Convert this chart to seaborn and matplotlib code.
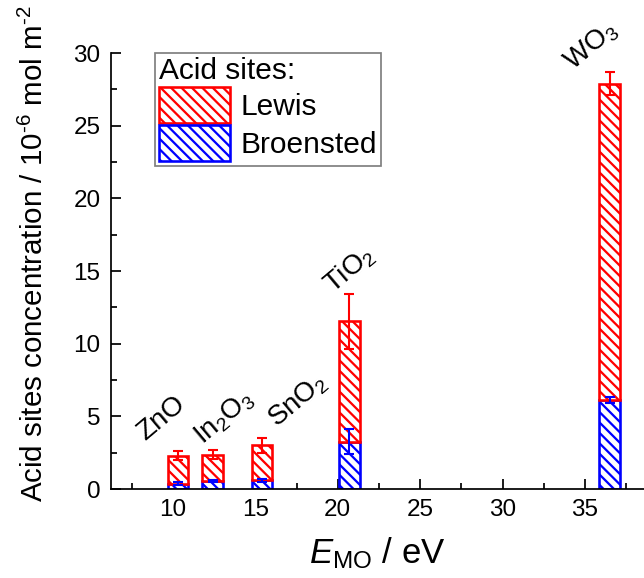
import numpy as np
import pandas as pd
import matplotlib
matplotlib.use("Agg")
import matplotlib.pyplot as plt
from matplotlib.patches import Patch
from matplotlib.ticker import MultipleLocator
import seaborn as sns

# Metal oxides and their E_MO values (eV)
oxides = ["ZnO", "In$_2$O$_3$", "SnO$_2$", "TiO$_2$", "WO$_3$"]
e_mo = [10.3, 12.4, 15.4, 20.7, 36.5]

# Acid site concentrations (10^-6 mol m^-2)
broensted = [0.35, 0.55, 0.6, 3.25, 6.1]
broensted_err = [0.1, 0.1, 0.1, 0.85, 0.2]
lewis = [1.95, 1.8, 2.4, 8.3, 21.8]
total_err = [0.3, 0.3, 0.5, 1.9, 0.8]

# Label positions for the oxide names (data coords)
label_x = [9.3, 13.1, 17.6, 20.7, 35.35]
label_y = [4.9, 4.9, 6.05, 15.1, 30.5]

DPI = 125
sns.set_style("ticks")
plt.rcParams["font.family"] = ["Liberation Sans", "DejaVu Sans"]
plt.rcParams["mathtext.fontset"] = "custom"
plt.rcParams["mathtext.rm"] = "Liberation Sans"
plt.rcParams["mathtext.it"] = "Liberation Sans:italic"
plt.rcParams["mathtext.default"] = "regular"
plt.rcParams["hatch.linewidth"] = 1.3
for key in ("text.color", "axes.labelcolor", "xtick.color", "ytick.color",
            "axes.edgecolor"):
    plt.rcParams[key] = "black"

RED = "#ff0000"
BLUE = "#0000ff"
HATCH = "\\\\\\\\"
EDGE_LW = 1.5

fig = plt.figure(figsize=(644 / DPI, 578 / DPI), dpi=DPI)
ax = fig.add_axes([111 / 644, 89 / 578, (644 - 111) / 644, (489 - 53) / 578])

df = pd.DataFrame({"E_MO": e_mo, "Broensted": broensted, "Lewis": lewis})
bar_width = 1.25
rel_width = bar_width / np.min(np.diff(e_mo))


def style_new_patches(start, color):
    for p in ax.patches[start:]:
        p.set_facecolor("white")
        p.set_edgecolor(color)
        p.set_hatch(HATCH)
        p.set_linewidth(EDGE_LW)


n0 = len(ax.patches)
sns.barplot(data=df, x="E_MO", y="Broensted", native_scale=True,
            width=rel_width, errorbar=None, color=BLUE, ax=ax)
style_new_patches(n0, BLUE)

n1 = len(ax.patches)
sns.barplot(data=df, x="E_MO", y="Lewis", native_scale=True,
            width=rel_width, errorbar=None, color=RED, ax=ax,
            bottom=df["Broensted"].to_numpy())
style_new_patches(n1, RED)

totals = df["Broensted"] + df["Lewis"]
ax.errorbar(df["E_MO"], totals, yerr=total_err, fmt="none", ecolor=RED,
            elinewidth=1.2, capsize=3, capthick=1.2, zorder=5)
ax.errorbar(df["E_MO"], df["Broensted"], yerr=broensted_err, fmt="none",
            ecolor=BLUE, elinewidth=1.2, capsize=3, capthick=1.2, zorder=5)

for name, lx, ly in zip(oxides, label_x, label_y):
    ax.text(lx, ly, name, rotation=40, ha="center", va="center",
            rotation_mode="anchor", fontsize=16, clip_on=False)

ax.set_xlim(6.24, 38.58)
ax.set_ylim(0, 30)
ax.xaxis.set_major_locator(MultipleLocator(5))
ax.xaxis.set_minor_locator(MultipleLocator(2.5))
ax.yaxis.set_major_locator(MultipleLocator(5))
ax.yaxis.set_minor_locator(MultipleLocator(2.5))
ax.tick_params(which="both", direction="in", color="black", width=1)
ax.tick_params(which="major", length=6, labelsize=14, pad=6)
ax.tick_params(which="minor", length=3.5)
sns.despine(ax=ax)
for s in ("left", "bottom"):
    ax.spines[s].set_color("black")
    ax.spines[s].set_linewidth(1)

ax.set_xlabel("$\\mathit{E}_{\\mathrm{MO}}$ / eV", fontsize=20, labelpad=8)
ax.set_ylabel("Acid sites concentration / 10$^{\u2010 6}$ mol m$^{\u2010 2}$",
              fontsize=17, labelpad=14)
ax.yaxis.label.set_y(0.54)

handles = [
    Patch(facecolor="white", edgecolor=RED, hatch=HATCH, linewidth=EDGE_LW, label="Lewis"),
    Patch(facecolor="white", edgecolor=BLUE, hatch=HATCH, linewidth=EDGE_LW, label="Broensted"),
]
leg = ax.legend(handles=handles, title="Acid sites:", loc="upper left",
                bbox_to_anchor=((155 - 111) / 533, 1.0), borderaxespad=0,
                fontsize=17.2, title_fontsize=17.2, alignment="left",
                handlelength=2.35, handleheight=1.5, labelspacing=0.05,
                handletextpad=0.35, borderpad=0.15, frameon=True,
                fancybox=False, framealpha=1)
leg.get_frame().set_edgecolor("#808080")
leg.get_frame().set_linewidth(1)

fig.savefig("out.png", dpi=DPI)
